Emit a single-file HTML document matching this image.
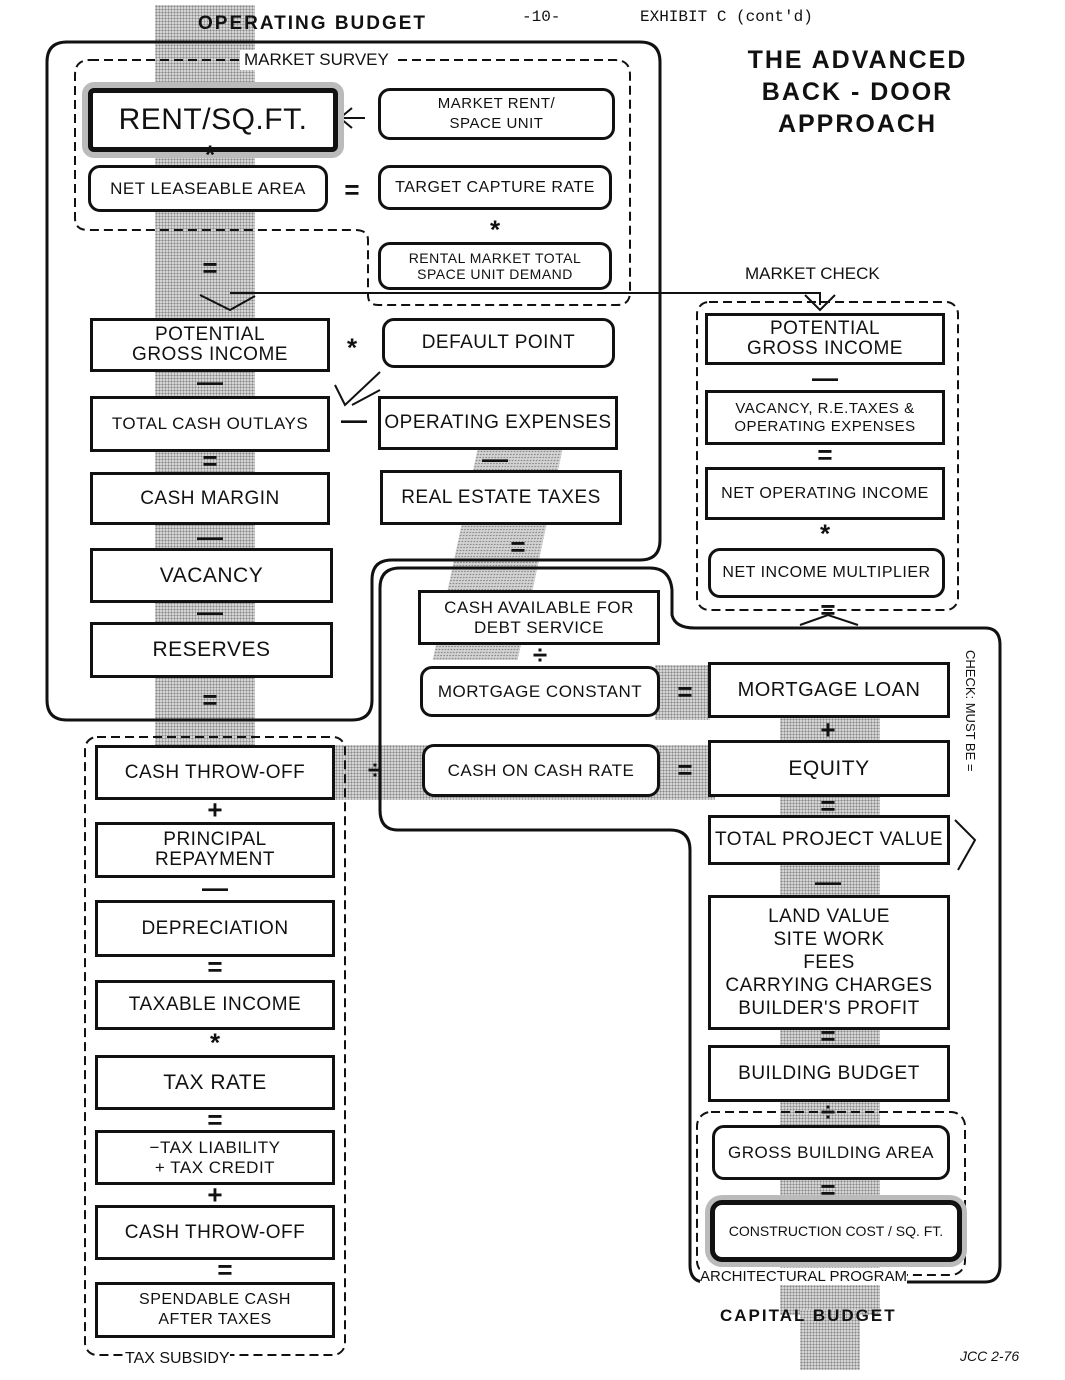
<!DOCTYPE html>
<html><head><meta charset="utf-8"><style>
body{margin:0;background:#fff;}
#c{position:relative;width:1065px;height:1380px;overflow:hidden;font-family:"Liberation Sans",sans-serif;color:#111;}
.b{position:absolute;box-sizing:border-box;border:3px solid #111;display:flex;align-items:center;justify-content:center;text-align:center;font-size:19px;line-height:20px;letter-spacing:0.5px;background:#fff;}
.r{border-radius:12px;}
.t{position:absolute;white-space:nowrap;}
.op{position:absolute;font-size:26px;font-weight:bold;transform:translate(-50%,-50%);}
.g{position:absolute;background-color:#d4d4d4;background-image:radial-gradient(#888 0.8px,transparent 0.9px);background-size:3px 3px;}
</style></head><body><div id="c">
<div class="g" style="left:155px;top:5px;width:100px;height:740px"></div>
<div class="g" style="left:335px;top:745px;width:380px;height:55px"></div>
<div class="g" style="left:655px;top:665px;width:55px;height:55px"></div>
<div class="g" style="left:455px;top:450px;width:85px;height:210px;transform:skewX(-12deg)"></div>
<div class="g" style="left:780px;top:715px;width:100px;height:600px"></div>
<div class="g" style="left:800px;top:1310px;width:60px;height:60px"></div>

<svg width="1065" height="1380" style="position:absolute;left:0;top:0" fill="none" stroke="#111">
<path d="M65,42 H640 Q660,42 660,62 V540 Q660,560 640,560 H392 Q372,560 372,580 V700 Q372,720 352,720 H67 Q47,720 47,700 V62 Q47,42 67,42 Z" stroke-width="3"/>
<path d="M400,568 H650 Q670,568 672,590 V615 Q675,628 695,628 H985 Q1000,628 1000,645 V1265 Q1000,1282 985,1282 H705 Q690,1282 690,1265 V850 Q690,830 670,830 H398 Q380,830 380,810 V588 Q380,568 400,568 Z" stroke-width="3"/>
<path d="M90,60 H615 Q630,60 630,75 V292 Q630,305 617,305 H378 Q368,305 368,295 V240 Q368,230 355,230 H88 Q75,230 75,218 V75 Q75,60 90,60 Z" stroke-width="2" stroke-dasharray="9,5"/>
<rect x="85" y="737" width="260" height="618" rx="12" stroke-width="2" stroke-dasharray="9,5"/>
<rect x="697" y="302" width="261" height="308" rx="12" stroke-width="2" stroke-dasharray="9,5"/>
<rect x="697" y="1112" width="268" height="163" rx="14" stroke-width="2" stroke-dasharray="9,5"/>
<path d="M230,293 H820 V305" stroke-width="2"/>
<path d="M200,295 L230,310 L255,296" stroke-width="2"/>
<path d="M805,295 L820,310 L835,295" stroke-width="2"/>
<path d="M365,118 H342 M352,108 L340,118 L352,128" stroke-width="2"/>
<path d="M380,372 L345,405 L335,385 M380,390 L352,405" stroke-width="2"/>
<path d="M955,820 L975,840 L958,870" stroke-width="2"/>
<path d="M800,625 L828,615 L858,625" stroke-width="2"/>
</svg>

<div class="t" style="left:198px;top:13px;font-size:19px;font-weight:bold;letter-spacing:2px">OPERATING BUDGET</div>
<div class="t" style="left:522px;top:8px;font-family:'Liberation Mono';font-size:16px">-10-</div>
<div class="t" style="left:640px;top:8px;font-family:'Liberation Mono';font-size:16px">EXHIBIT C  (cont'd)</div>
<div class="t" style="left:705px;top:44px;width:305px;text-align:center;font-size:25px;font-weight:bold;line-height:32px;letter-spacing:2px;white-space:normal">THE ADVANCED<br>BACK - DOOR<br>APPROACH</div>
<div class="t" style="left:240px;top:50px;font-size:17px;background:#fff;padding:0 4px">MARKET SURVEY</div>
<div class="t" style="left:745px;top:264px;font-size:17px">MARKET CHECK</div>
<div class="t" style="left:125px;top:1350px;font-size:16px;background:#fff">TAX SUBSIDY</div>
<div class="t" style="left:700px;top:1268px;font-size:15px;background:#fff">ARCHITECTURAL PROGRAM</div>
<div class="t" style="left:720px;top:1306px;font-size:17px;font-weight:bold;letter-spacing:2px">CAPITAL BUDGET</div>
<div class="t" style="left:960px;top:1348px;font-size:14px;font-style:italic">JCC 2-76</div>
<div class="t" style="left:978px;top:650px;font-size:13px;transform:rotate(90deg);transform-origin:0 0;">CHECK: MUST BE =</div>

<div class="b" style="left:88px;top:88px;width:250px;height:64px;border-width:5px;font-size:30px;box-shadow:0 0 0 6px #bbb;border-radius:6px">RENT/SQ.FT.</div>
<div class="b r" style="left:88px;top:165px;width:240px;height:47px;font-size:17px">NET LEASEABLE AREA</div>
<div class="b r" style="left:378px;top:88px;width:237px;height:52px;font-size:15px">MARKET RENT/<br>SPACE UNIT</div>
<div class="b r" style="left:378px;top:165px;width:234px;height:45px;font-size:16px">TARGET CAPTURE RATE</div>
<div class="b r" style="left:378px;top:242px;width:234px;height:48px;font-size:14px;line-height:16px">RENTAL MARKET TOTAL<br>SPACE UNIT DEMAND</div>
<div class="b" style="left:90px;top:318px;width:240px;height:54px">POTENTIAL<br>GROSS INCOME</div>
<div class="b r" style="left:382px;top:318px;width:233px;height:50px">DEFAULT POINT</div>
<div class="b" style="left:90px;top:396px;width:240px;height:56px;font-size:17px">TOTAL CASH OUTLAYS</div>
<div class="b" style="left:378px;top:396px;width:240px;height:54px">OPERATING EXPENSES</div>
<div class="b" style="left:90px;top:472px;width:240px;height:53px">CASH MARGIN</div>
<div class="b" style="left:380px;top:470px;width:242px;height:55px">REAL ESTATE TAXES</div>
<div class="b" style="left:90px;top:548px;width:243px;height:55px;font-size:21px">VACANCY</div>
<div class="b" style="left:90px;top:622px;width:243px;height:56px;font-size:21px">RESERVES</div>

<div class="b" style="left:418px;top:590px;width:242px;height:55px;font-size:17px">CASH AVAILABLE FOR<br>DEBT SERVICE</div>
<div class="b r" style="left:420px;top:666px;width:240px;height:51px;font-size:17px">MORTGAGE CONSTANT</div>
<div class="b r" style="left:422px;top:744px;width:238px;height:53px;font-size:17px">CASH ON CASH RATE</div>
<div class="b" style="left:708px;top:662px;width:242px;height:56px;font-size:20px">MORTGAGE LOAN</div>
<div class="b" style="left:708px;top:740px;width:242px;height:57px;font-size:21px">EQUITY</div>
<div class="b" style="left:708px;top:815px;width:242px;height:50px">TOTAL PROJECT VALUE</div>
<div class="b" style="left:708px;top:895px;width:242px;height:135px;line-height:23px">LAND VALUE<br>SITE WORK<br>FEES<br>CARRYING CHARGES<br>BUILDER'S PROFIT</div>
<div class="b" style="left:708px;top:1045px;width:242px;height:57px">BUILDING BUDGET</div>
<div class="b r" style="left:712px;top:1125px;width:238px;height:55px;font-size:17px">GROSS BUILDING AREA</div>
<div class="b" style="left:710px;top:1200px;width:252px;height:62px;border-width:5px;border-radius:12px;box-shadow:0 0 0 5px #bbb;font-size:14px;letter-spacing:0">CONSTRUCTION COST / SQ. FT.</div>

<div class="b" style="left:705px;top:313px;width:240px;height:52px">POTENTIAL<br>GROSS INCOME</div>
<div class="b" style="left:705px;top:390px;width:240px;height:55px;font-size:15px;line-height:18px">VACANCY, R.E.TAXES &amp;<br>OPERATING EXPENSES</div>
<div class="b" style="left:705px;top:467px;width:240px;height:53px;font-size:16px">NET OPERATING INCOME</div>
<div class="b r" style="left:708px;top:548px;width:237px;height:50px;font-size:16px">NET INCOME MULTIPLIER</div>

<div class="b" style="left:95px;top:745px;width:240px;height:55px">CASH THROW-OFF</div>
<div class="b" style="left:95px;top:822px;width:240px;height:56px">PRINCIPAL<br>REPAYMENT</div>
<div class="b" style="left:95px;top:900px;width:240px;height:57px">DEPRECIATION</div>
<div class="b" style="left:95px;top:980px;width:240px;height:50px">TAXABLE INCOME</div>
<div class="b" style="left:95px;top:1055px;width:240px;height:55px;font-size:21px">TAX RATE</div>
<div class="b" style="left:95px;top:1130px;width:240px;height:55px;font-size:17px">−TAX LIABILITY<br>+ TAX CREDIT</div>
<div class="b" style="left:95px;top:1205px;width:240px;height:55px">CASH THROW-OFF</div>
<div class="b" style="left:95px;top:1282px;width:240px;height:56px;font-size:16px">SPENDABLE CASH<br>AFTER TAXES</div>

<div class="op" style="left:210px;top:155px">*</div>
<div class="op" style="left:352px;top:190px">=</div>
<div class="op" style="left:495px;top:230px">*</div>
<div class="op" style="left:210px;top:268px">=</div>
<div class="op" style="left:352px;top:348px">*</div>
<div class="op" style="left:210px;top:382px">—</div>
<div class="op" style="left:354px;top:420px">—</div>
<div class="op" style="left:210px;top:461px">=</div>
<div class="op" style="left:495px;top:459px">—</div>
<div class="op" style="left:210px;top:537px">—</div>
<div class="op" style="left:518px;top:547px">=</div>
<div class="op" style="left:210px;top:612px">—</div>
<div class="op" style="left:210px;top:700px">=</div>
<div class="op" style="left:215px;top:810px">+</div>
<div class="op" style="left:215px;top:888px">—</div>
<div class="op" style="left:215px;top:967px">=</div>
<div class="op" style="left:215px;top:1043px">*</div>
<div class="op" style="left:215px;top:1120px">=</div>
<div class="op" style="left:215px;top:1195px">+</div>
<div class="op" style="left:225px;top:1270px">=</div>
<div class="op" style="left:825px;top:378px">—</div>
<div class="op" style="left:825px;top:455px">=</div>
<div class="op" style="left:825px;top:534px">*</div>
<div class="op" style="left:828px;top:610px">=</div>
<div class="op" style="left:540px;top:655px">÷</div>
<div class="op" style="left:685px;top:692px">=</div>
<div class="op" style="left:685px;top:770px">=</div>
<div class="op" style="left:375px;top:770px">÷</div>
<div class="op" style="left:828px;top:730px">+</div>
<div class="op" style="left:828px;top:806px">=</div>
<div class="op" style="left:828px;top:882px">—</div>
<div class="op" style="left:828px;top:1036px">=</div>
<div class="op" style="left:828px;top:1112px">÷</div>
<div class="op" style="left:828px;top:1190px">=</div>
</div></body></html>
